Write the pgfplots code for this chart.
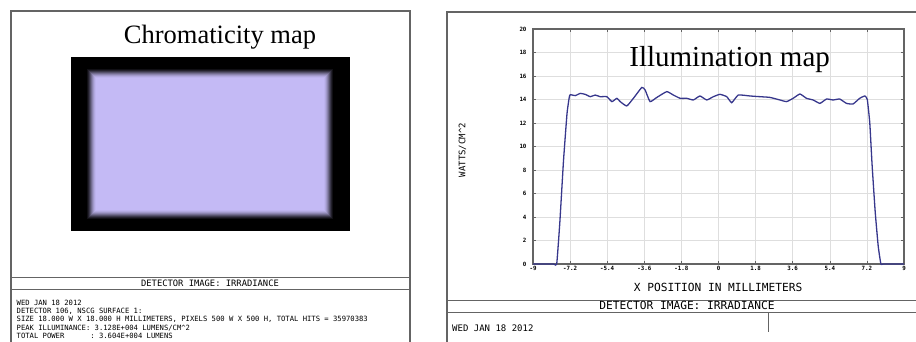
\documentclass[border=0pt]{standalone}
\usepackage{pgfplots}
\pgfplotsset{compat=1.18}
\usepackage{fontspec}
\setmainfont{Liberation Serif}
\newfontfamily\mono{DejaVu Sans Mono}
\definecolor{lav}{RGB}{196,186,245}
\definecolor{curve}{RGB}{55,55,140}
\definecolor{frame}{RGB}{100,100,100}
\definecolor{gridc}{RGB}{222,222,222}
\begin{document}
\begin{tikzpicture}
\path[use as bounding box] (0bp,0bp) rectangle (916bp,-342bp);
% panel frames
\draw[frame, line width=1.2bp] (11bp,-342bp) -- (11bp,-11bp) -- (410bp,-11bp) -- (410bp,-342bp);
\draw[frame, line width=1bp] (11bp,-277bp) -- (410bp,-277bp);
\draw[frame, line width=1bp] (11bp,-289bp) -- (410bp,-289bp);
\draw[frame, line width=1.2bp] (447bp,-342bp) -- (447bp,-12bp) -- (916bp,-12bp);
\draw[frame, line width=1bp] (447bp,-300bp) -- (916bp,-300bp);
\draw[frame, line width=1bp] (447bp,-312bp) -- (916bp,-312bp);
\draw[frame, line width=1bp] (768bp,-312bp) -- (768bp,-332bp);
% texts of left panel
\node[font=\fontsize{26.5bp}{30bp}\selectfont] at (220bp,-37bp) {Chromaticity map};
\node[font=\mono\fontsize{8.8bp}{9bp}\selectfont] at (210bp,-283bp) {DETECTOR IMAGE: IRRADIANCE};
\node[font=\mono\fontsize{7.2bp}{8.4bp}\selectfont, anchor=north west, align=left, inner sep=0pt] at (16.5bp,-299.5bp)
 {WED JAN 18 2012\\DETECTOR 106, NSCG SURFACE 1:\\SIZE 18.000 W X 18.000 H MILLIMETERS, PIXELS 500 W X 500 H, TOTAL HITS = 35970383\\PEAK ILLUMINANCE: 3.128E+004 LUMENS/CM\^{}2\\TOTAL POWER\ \ \ \ \ \ : 3.604E+004 LUMENS};
% texts of right panel
\node[font=\mono\fontsize{11.2bp}{12bp}\selectfont] at (687bp,-305bp) {DETECTOR IMAGE: IRRADIANCE};
\node[font=\mono\fontsize{9bp}{10bp}\selectfont, anchor=west, inner sep=0pt] at (452bp,-328bp) {WED JAN 18 2012};
% chromaticity map
\begin{axis}[at={(71bp,-231bp)}, anchor=south west, scale only axis,
  width=279bp, height=174bp, hide axis,
  xmin=0, xmax=279, ymin=0, ymax=174]
\addplot[fill=black, draw=none] coordinates {(0,0) (279,0) (279,174) (0,174)} -- cycle;
\addplot[fill=lav!8!black, draw=none] coordinates {(16,12) (262,12) (262,162) (16,162)} -- cycle;
\addplot[fill=lav!18!black, draw=none] coordinates {(17,13) (261,13) (261,161) (17,161)} -- cycle;
\addplot[fill=lav!30!black, draw=none] coordinates {(18,14) (260,14) (260,160) (18,160)} -- cycle;
\addplot[fill=lav!44!black, draw=none] coordinates {(19,15) (259,15) (259,159) (19,159)} -- cycle;
\addplot[fill=lav!58!black, draw=none] coordinates {(20,16) (258,16) (258,158) (20,158)} -- cycle;
\addplot[fill=lav!71!black, draw=none] coordinates {(21,17) (257,17) (257,157) (21,157)} -- cycle;
\addplot[fill=lav!82!black, draw=none] coordinates {(22,18) (256,18) (256,156) (22,156)} -- cycle;
\addplot[fill=lav!91!black, draw=none] coordinates {(23,19) (255,19) (255,155) (23,155)} -- cycle;
\addplot[fill=lav!97!black, draw=none] coordinates {(24,20) (254,20) (254,154) (24,154)} -- cycle;
\addplot[fill=lav, draw=none] coordinates {(25,21) (253,21) (253,153) (25,153)} -- cycle;
\end{axis}
% illumination map
\begin{axis}[at={(533bp,-264bp)}, anchor=south west, scale only axis,
  width=371bp, height=235bp,
  xmin=-9, xmax=9, ymin=0, ymax=20,
  xtick={-9,-7.2,-5.4,-3.6,-1.8,0,1.8,3.6,5.4,7.2,9},
  xticklabels={-9,-7.2,-5.4,-3.6,-1.8,0,1.8,3.6,5.4,7.2,9},
  ytick={0,2,...,20},
  yticklabels={0,2,4,6,8,10,12,14,16,18,20},
  tick align=inside, major tick length=3bp,
  tick style={frame, line width=0.6bp},
  axis line style={frame, line width=1.3bp},
  grid=major, major grid style={gridc, line width=0.6bp},
  ticklabel style={font=\mono\bfseries\fontsize{5.8bp}{6bp}\selectfont},
  xticklabel style={yshift=1bp},
  yticklabel style={xshift=-3bp},
  xlabel={X POSITION IN MILLIMETERS},
  xlabel style={font=\mono\fontsize{11.2bp}{12bp}\selectfont, at={(axis description cs:0.499,-0.098)}, anchor=center},
  ylabel={WATTS/CM\^{}2},
  ylabel style={font=\mono\fontsize{9bp}{10bp}\selectfont, at={(axis description cs:-0.19,0.485)}, anchor=center, rotate=0},
  clip=false]
\addplot[curve, line width=1.3bp, smooth, tension=0.25] coordinates {
(-9,0) (-8.0,0) (-7.85,0) (-7.7,3.5) (-7.52,8.8) (-7.35,12.8) (-7.24,14.2) (-7.19,14.41)
(-6.95,14.33) (-6.71,14.52) (-6.47,14.44) (-6.22,14.24) (-5.98,14.38) (-5.74,14.24)
(-5.42,14.24) (-5.17,13.82) (-4.93,14.10) (-4.77,13.82) (-4.45,13.45) (-4.13,14.10)
(-3.72,15.03) (-3.56,14.81) (-3.32,13.82) (-2.99,14.18) (-2.51,14.67) (-2.19,14.38)
(-1.86,14.10) (-1.54,14.10) (-1.22,13.96) (-0.90,14.30) (-0.57,13.96) (-0.25,14.24)
(0.07,14.44) (0.40,14.24) (0.64,13.73) (0.96,14.38) (1.53,14.30) (2.01,14.24)
(2.49,14.18) (2.98,13.96) (3.30,13.82) (3.62,14.10) (3.95,14.47) (4.27,14.10)
(4.59,13.96) (4.92,13.67) (5.24,14.04) (5.56,13.96) (5.88,14.04) (6.21,13.67)
(6.53,13.62) (6.85,14.10) (7.10,14.30) (7.22,14.0) (7.34,12.0) (7.45,8.5)
(7.6,4.5) (7.75,1.5) (7.88,0) (8.0,0) (9,0)};
\node[font=\fontsize{29bp}{32bp}\selectfont] at (axis description cs:0.53,0.87) {Illumination map};
\end{axis}
\end{tikzpicture}
\end{document}
